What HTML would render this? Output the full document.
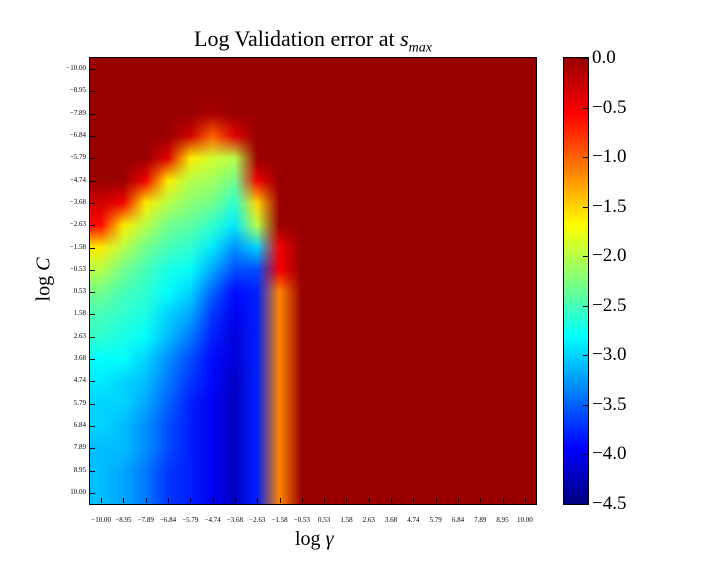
<!DOCTYPE html>
<html><head><meta charset="utf-8"><style>
body{margin:0;background:#fff;width:720px;height:576px;overflow:hidden;position:relative;font-family:"Liberation Serif",serif}
.t{position:absolute;white-space:nowrap}
</style></head><body>
<div class="t" style="left:0;width:626px;top:26px;text-align:center;font-size:22px">Log Validation error at <i>s<sub style="font-size:14px">max</sub></i></div>
<canvas id="hm" width="446" height="446" style="position:absolute;left:90px;top:58px"></canvas>
<div style="position:absolute;left:89px;top:57px;width:446px;height:446px;border:1px solid #000"></div>
<canvas id="cb" width="24" height="446" style="position:absolute;left:564px;top:58px"></canvas>
<div style="position:absolute;left:563px;top:57px;width:24px;height:446px;border:1px solid #000"></div>
<div class="t" style="left:295px;top:528px;font-size:20px">log <i>γ</i></div>
<div class="t" style="left:22px;top:268px;font-size:20px;transform:rotate(-90deg);transform-origin:center">log <i>C</i></div>
<div id="ann"></div>
<script>
const ticks=["−10.00","−8.95","−7.89","−6.84","−5.79","−4.74","−3.68","−2.63","−1.58","−0.53","0.53","1.58","2.63","3.68","4.74","5.79","6.84","7.89","8.95","10.00"];
const cbTicks=[0.0,-0.5,-1.0,-1.5,-2.0,-2.5,-3.0,-3.5,-4.0,-4.5];
// values per gamma column (index = gamma), each from C row -10 (top) to 10 (bottom)
const col0=[0,0,0,0,0,0,-0.3,-0.6,-1.6,-2.0,-2.3,-2.5,-2.6,-2.8,-2.9,-3.0,-3.0,-3.1,-3.1,-3.1];
const col1=[0,0,0,0,0,0,-0.5,-1.6,-2.0,-2.3,-2.5,-2.6,-2.7,-2.8,-3.0,-3.0,-3.1,-3.1,-3.2,-3.2];
const col2=[0,0,0,0,0,-0.5,-1.6,-2.0,-2.3,-2.5,-2.6,-2.7,-2.8,-3.0,-3.1,-3.2,-3.3,-3.3,-3.4,-3.4];
const col3=[0,0,0,0,-0.4,-1.6,-2.0,-2.3,-2.5,-2.7,-2.8,-3.0,-3.1,-3.3,-3.4,-3.5,-3.6,-3.6,-3.7,-3.7];
const col4=[0,0,0,-0.3,-1.6,-2.0,-2.2,-2.4,-2.6,-2.8,-3.0,-3.2,-3.4,-3.6,-3.7,-3.8,-3.8,-3.8,-3.8,-3.8];
const col5=[0,0,-0.1,-1.0,-1.9,-2.1,-2.3,-2.6,-2.9,-3.2,-3.5,-3.7,-3.8,-3.9,-3.9,-4.0,-4.0,-4.0,-4.0,-4.0];
const col6=[0,0,0,-0.4,-2.0,-2.3,-2.6,-2.9,-3.3,-3.6,-3.9,-4.0,-4.1,-4.1,-4.2,-4.2,-4.2,-4.2,-4.2,-4.2];
const col7=[0,0,0,0,0,-0.5,-1.5,-2.0,-3.0,-3.6,-3.8,-3.8,-3.8,-3.8,-3.8,-3.8,-3.8,-3.8,-3.8,-3.8];
const col8=[0,0,0,0,0,0,0,0,-0.5,-0.5,-1.15,-1.15,-1.15,-1.15,-1.15,-1.15,-1.15,-1.15,-1.15,-1.15];
const zero=new Array(20).fill(0);
const cols=[col0,col1,col2,col3,col4,col5,col6,col7,col8,zero,zero,zero,zero,zero,zero,zero,zero,zero,zero,zero];
const vmin=-4.5,vmax=0;
function jet(t){t=Math.max(0,Math.min(1,t));
 const f=(a)=>Math.max(0,Math.min(1,a));
 const r=t<0.875?f(1.5-Math.abs(4*t-3)):1-(t-0.875)*3.2,g=f(1.5-Math.abs(4*t-2)),b=f(1.5-Math.abs(4*t-1));
 return [r*255,g*255,b*255];}
const N=20,W=446,cs=W/N;
const cc=cols.map(c=>c.map(v=>jet((v-vmin)/(vmax-vmin))));
function col(u,v){u=Math.max(0,Math.min(N-1,u));v=Math.max(0,Math.min(N-1,v));
 const i=Math.min(N-2,Math.floor(u)),j=Math.min(N-2,Math.floor(v)),a=u-i,b=v-j;const o=[0,0,0];
 for(let k=0;k<3;k++)o[k]=cc[i][j][k]*(1-a)*(1-b)+cc[i+1][j][k]*a*(1-b)+cc[i][j+1][k]*(1-a)*b+cc[i+1][j+1][k]*a*b;return o;}
const hm=document.getElementById('hm').getContext('2d');
const img=hm.createImageData(W,W);
for(let y=0;y<W;y++)for(let x=0;x<W;x++){
 const c=col((x+0.5)/cs-0.5,(y+0.5)/cs-0.5);
 const k=(y*W+x)*4;img.data[k]=c[0];img.data[k+1]=c[1];img.data[k+2]=c[2];img.data[k+3]=255;}
hm.putImageData(img,0,0);
const cb=document.getElementById('cb').getContext('2d');
for(let y=0;y<W;y++){const c=jet(1-(y+0.5)/W);cb.fillStyle=`rgb(${c[0]|0},${c[1]|0},${c[2]|0})`;cb.fillRect(0,y,24,1);}
const ann=document.getElementById('ann');
function add(html,css,name){const d=document.createElement('div');d.className='t';d.style.cssText=css;d.innerHTML=html;
 
 
 ann.appendChild(d);}
ticks.forEach((t,i)=>{const p=90+(i+0.5)*cs;
 add(t,`left:${p-20}px;width:40px;text-align:center;top:516px;font-size:7px`,'x-tick-label');
 add('',`left:${p}px;top:${498}px;width:1px;height:5px;background:#000`,'x-tick');
 add(t,`left:40px;width:46px;text-align:right;top:${58+(i+0.5)*cs-5}px;font-size:7px`,'y-tick-label');
 add('',`left:90px;top:${58+(i+0.5)*cs}px;width:5px;height:1px;background:#000`,'y-tick');});
cbTicks.forEach(v=>{const y=58+(vmax-v)/(vmax-vmin)*W;
 const s=(v<0?'−':'')+Math.abs(v).toFixed(1);
 add(s,`left:592px;top:${y-11}px;font-size:19px`,'colorbar-tick-label');
 add('',`left:583px;top:${y}px;width:5px;height:1px;background:#000`,'colorbar-tick');});
</script>
</body></html>
